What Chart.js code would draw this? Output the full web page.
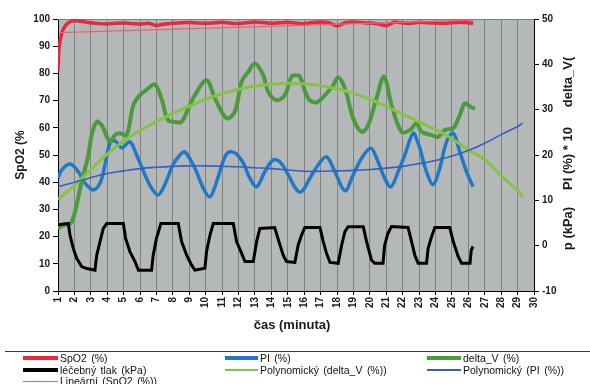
<!DOCTYPE html>
<html><head><meta charset="utf-8">
<script src="https://cdn.jsdelivr.net/npm/chart.js@4/dist/chart.umd.min.js"></script>
<style>
html,body{margin:0;padding:0;background:#fff;}
#wrap{position:relative;width:590px;height:384px;overflow:hidden;background:#fff;}
canvas{position:absolute;left:0;top:0;}
.sep{position:absolute;left:5px;top:351px;width:585px;height:1px;background:#3a3a3a;}
.lg{position:absolute;height:12px;display:flex;align-items:center;font:10.5px "Liberation Sans",Arial,sans-serif;color:#111;white-space:nowrap;word-spacing:1.5px;}
.lg i{display:inline-block;width:35px;margin-right:2px;}
</style></head>
<body><div id="wrap"><canvas id="c" width="590" height="384"></canvas>
<div class="sep"></div>
<div class="lg" style="left:23px;top:352px"><i style="height:4px;background:#e8283c"></i>SpO2 (%)</div>
<div class="lg" style="left:23px;top:364px"><i style="height:4px;background:#000"></i>léčebný tlak (kPa)</div>
<div class="lg" style="left:23px;top:375px"><i style="height:1px;background:#f06070"></i>Lineární (SpO2 (%))</div>
<div class="lg" style="left:225px;top:352px"><i style="width:33px;height:4px;background:#1f78c8"></i>PI (%)</div>
<div class="lg" style="left:225px;top:364px"><i style="width:33px;height:1.5px;background:#86c440"></i>Polynomický (delta_V (%))</div>
<div class="lg" style="left:427px;top:352px"><i style="width:34px;height:4px;background:#4b9a3c"></i>delta_V (%)</div>
<div class="lg" style="left:427px;top:364px"><i style="width:34px;height:1.5px;background:#3560c0"></i>Polynomický (PI (%))</div>
</div>
<script>
// ---- data (minutes / values) ----
const spo2T = [1, 1.05, 1.1, 1.2, 1.3, 1.45, 1.6, 1.8, 2.2, 2.6, 3, 3.5, 4, 4.5, 5, 5.5, 6, 6.5, 7, 7.5, 8, 8.5, 9, 9.5, 10, 10.5, 11, 11.5, 12, 12.5, 13, 13.5, 14, 14.5, 15, 15.5, 16, 16.5, 17, 17.5, 18, 18.5, 19, 19.5, 20, 20.5, 21, 21.5, 22, 22.5, 23, 23.5, 24, 24.5, 25, 25.5, 26, 26.3];
const spo2V = [81, 88, 91, 94, 96, 97.5, 98.5, 99.2, 99.3, 99.0, 98.6, 98.3, 98.2, 98.4, 98.5, 98.3, 98.1, 98.4, 97.6, 98.2, 98.4, 98.6, 98.7, 98.5, 98.4, 98.6, 98.8, 98.5, 98.3, 98.6, 98.9, 98.7, 98.4, 98.6, 98.8, 98.5, 98.3, 98.7, 98.9, 98.6, 97.5, 98.6, 98.9, 98.7, 98.5, 98.2, 97.5, 98.9, 98.5, 98.4, 98.8, 98.6, 98.5, 98.3, 98.6, 98.8, 98.6, 98.4];

const linSpo2T = [1.1, 26.3];
const linSpo2V = [95.0, 99.6];

const piT = [1.0, 1.23, 1.73, 2.24, 2.64, 3.15, 3.56, 3.86, 4.17, 4.47, 4.88, 5.38, 5.79, 6.3, 6.7, 7.1, 7.5, 8.0, 8.43, 8.73, 9.34, 9.85, 10.26, 10.66, 11.17, 11.48, 11.88, 12.29, 12.69, 13.1, 13.6, 14.1, 14.52, 15.03, 15.54, 15.84, 16.35, 16.85, 17.36, 17.87, 18.48, 18.98, 19.5, 20.06, 20.5, 20.9, 21.28, 21.72, 22.13, 22.64, 22.94, 23.05, 23.45, 23.86, 24.26, 24.67, 25.08, 25.48, 25.89, 26.29];
const piV = [14.9, 16.7, 18.0, 16.3, 13.8, 12.3, 13.8, 17.8, 22.6, 23.1, 21.6, 22.9, 20.0, 15.6, 12.7, 11.2, 13.4, 17.8, 20.0, 20.7, 17.1, 12.7, 10.8, 14.1, 19.6, 20.7, 20.2, 18.2, 14.9, 13.0, 16.3, 18.9, 18.5, 15.6, 12.3, 11.9, 14.9, 17.8, 19.6, 16.3, 12.1, 15.6, 19.3, 21.5, 18.5, 14.9, 13.0, 16.3, 20.0, 24.8, 22.6, 21.5, 16.3, 13.5, 17.1, 22.9, 24.8, 20.7, 16.3, 13.0];

const dvT = [1.0, 1.3, 1.63, 1.8, 2.04, 2.44, 2.85, 3.05, 3.36, 3.66, 4.17, 4.47, 4.78, 5.18, 5.59, 5.99, 6.5, 6.9, 7.3, 7.7, 8.13, 8.53, 8.94, 9.34, 10.05, 10.56, 11.27, 11.78, 12.19, 12.6, 13.0, 13.5, 13.8, 14.3, 14.82, 15.23, 15.5, 15.74, 16.24, 16.75, 17.36, 17.77, 18.07, 18.48, 18.98, 19.5, 19.9, 20.4, 20.87, 21.32, 21.93, 22.44, 22.84, 23.15, 23.76, 24.16, 24.57, 25.08, 25.48, 25.79, 26.1, 26.4];
const dvV = [3.8, 4.5, 4.7, 5.0, 7.5, 14.1, 20.0, 24.4, 27.3, 26.6, 22.9, 24.4, 24.8, 24.4, 31.0, 33.2, 34.7, 35.6, 32.5, 27.7, 27.3, 27.3, 30.3, 33.2, 36.5, 32.5, 28.1, 29.6, 36.2, 38.4, 40.2, 37.6, 34.0, 32.1, 33.2, 37.3, 37.6, 37.3, 32.5, 31.6, 33.6, 35.4, 37.1, 34.7, 28.1, 25.1, 26.6, 32.5, 37.3, 31.0, 25.1, 25.5, 27.0, 25.1, 24.4, 24.0, 25.5, 25.9, 28.8, 31.4, 30.7, 30.2];

const tlakT = [1.0, 1.63, 1.73, 1.93, 2.14, 2.44, 2.7, 3.25, 3.36, 3.56, 3.76, 3.97, 4.98, 5.12, 5.38, 5.69, 5.9, 6.7, 6.8, 7.0, 7.27, 8.33, 8.53, 8.84, 9.14, 9.34, 9.95, 10.05, 10.26, 10.46, 11.68, 11.88, 12.19, 12.39, 12.9, 13.1, 13.3, 14.2, 14.4, 14.72, 14.92, 15.43, 15.63, 15.84, 16.04, 16.96, 17.16, 17.36, 17.57, 18.07, 18.28, 18.48, 18.68, 19.6, 19.8, 20.1, 20.3, 20.8, 20.9, 21.1, 21.32, 22.33, 22.54, 22.74, 22.94, 23.45, 23.55, 23.76, 23.96, 24.87, 25.08, 25.38, 25.59, 26.1, 26.18, 26.29];
const tlakV = [4.6, 4.9, 2.35, -0.6, -2.8, -4.6, -5.0, -5.4, -2.1, 0.9, 3.8, 4.9, 4.9, 1.6, -1.3, -3.5, -5.4, -5.4, -2.1, 1.6, 4.9, 4.9, 0.9, -2.1, -4.3, -5.4, -5.0, -1.3, 2.35, 4.9, 4.9, 0.9, -1.7, -3.5, -3.5, 0.9, 3.8, 4.0, 1.6, -2.1, -3.5, -3.7, 0.1, 2.35, 4.0, 4.0, 0.9, -1.7, -3.7, -3.9, 0.1, 3.1, 4.2, 4.2, 0.9, -3.2, -3.9, -3.9, 0.1, 2.7, 4.2, 4.0, 0.9, -2.1, -3.9, -3.9, -0.6, 2.0, 4.0, 4.0, 0.9, -2.4, -3.9, -3.9, -0.95, -0.2];

const polyDvT = [1, 2, 3, 4, 5, 6, 7, 8, 9, 10, 11, 12, 13, 14, 15, 16, 17, 18, 19, 20, 21, 22, 23, 24, 25, 26, 27, 28, 29, 29.3];
const polyDvV = [10.2, 13.3, 16.8, 20.2, 23.1, 25.4, 27.4, 29.2, 30.8, 32.3, 33.5, 34.5, 35.2, 35.6, 35.8, 35.7, 35.3, 34.6, 33.6, 32.3, 30.7, 29.0, 27.3, 25.6, 23.6, 21.1, 19.0, 15.4, 12.2, 10.8];

const polyPiT = [1, 2, 3, 4, 5, 6, 7, 8, 9, 10, 11, 12, 13, 14, 15, 16, 17, 18, 19, 20, 21, 22, 23, 24, 25, 26, 27, 28, 29, 29.3];
const polyPiV = [13.0, 14.0, 15.0, 15.9, 16.5, 17.0, 17.3, 17.5, 17.6, 17.6, 17.5, 17.4, 17.2, 17.0, 16.7, 16.4, 16.4, 16.5, 16.6, 16.8, 17.1, 17.5, 18.1, 18.8, 19.8, 21.0, 22.6, 24.5, 26.3, 27.0];

const xTitle = 'čas (minuta)';
const leftTitle = 'SpO2 (%';
const rightTitleParts = ['p (kPa)', 'PI (%) * 10', 'delta_V('];

const pts = (t, v) => t.slice(0, Math.min(t.length, v.length)).map((x, i) => ({x, y: v[i]}));
const FONT = '"Liberation Sans", Arial, sans-serif';

const deco = {
  id: 'deco',
  beforeDraw(chart) {
    const {ctx, chartArea: a} = chart;
    ctx.save();
    ctx.fillStyle = '#b4b8b8';
    ctx.fillRect(a.left, a.top, a.right - a.left, a.bottom - a.top);
    ctx.restore();
  },
  beforeDatasetsDraw(chart) {
    const {ctx, chartArea: a} = chart;
    ctx.save();
    ctx.strokeStyle = '#7c8080';
    ctx.lineWidth = 1;
    ctx.beginPath();
    ctx.moveTo(a.left, a.top + 0.5);
    ctx.lineTo(a.right, a.top + 0.5);
    ctx.stroke();
    ctx.restore();
  },
  afterDraw(chart) {
    const {ctx, chartArea: a} = chart;
    ctx.save();
    ctx.fillStyle = '#1a1a1a';
    ctx.textAlign = 'center';
    ctx.textBaseline = 'middle';
    ctx.font = 'bold 12px ' + FONT;
    ctx.save(); ctx.translate(21, (a.top + a.bottom) / 2); ctx.rotate(-Math.PI / 2); ctx.fillText(leftTitle, 0, 0); ctx.restore();
    ctx.font = 'bold 13px ' + FONT;
    const ys = [228.5, 158.5, 82];
    rightTitleParts.forEach((s, i) => {
      ctx.save(); ctx.translate(568, ys[i]); ctx.rotate(-Math.PI / 2); ctx.fillText(s, 0, 0); ctx.restore();
    });
    ctx.font = 'bold 13px ' + FONT;
    ctx.fillText(xTitle, 292, 325);
    ctx.restore();
  }
};

const tickFont = {family: FONT, size: 10, weight: 'bold'};

new Chart(document.getElementById('c'), {
  type: 'line',
  data: {
    datasets: [
      {label: 'Lineární (SpO2 (%))', data: pts(linSpo2T, linSpo2V), yAxisID: 'y', borderColor: '#f06070', borderWidth: 1.3, pointRadius: 0, tension: 0},
      {label: 'Polynomický (PI (%))', data: pts(polyPiT, polyPiV), yAxisID: 'y2', borderColor: '#3560c0', borderWidth: 1.6, pointRadius: 0, tension: 0.4},
      {label: 'Polynomický (delta_V (%))', data: pts(polyDvT, polyDvV), yAxisID: 'y2', borderColor: '#86c440', borderWidth: 3, pointRadius: 0, tension: 0.4},
      {label: 'léčebný tlak (kPa)', data: pts(tlakT, tlakV), yAxisID: 'y2', borderColor: '#000000', borderWidth: 3, pointRadius: 0, tension: 0},
      {label: 'delta_V (%)', data: pts(dvT, dvV), yAxisID: 'y2', borderColor: '#4b9a3c', borderWidth: 4, pointRadius: 0, tension: 0.35},
      {label: 'PI (%)', data: pts(piT, piV), yAxisID: 'y2', borderColor: '#1f78c8', borderWidth: 3.5, pointRadius: 0, tension: 0.35},
      {label: 'SpO2 (%)', data: pts(spo2T, spo2V), yAxisID: 'y', borderColor: '#e8283c', borderWidth: 3.5, pointRadius: 0, tension: 0.2}
    ]
  },
  options: {
    responsive: false,
    animation: false,
    devicePixelRatio: 1,
    layout: {padding: {top: 19, bottom: 51, left: 0, right: 0}},
    plugins: {legend: {display: false}, tooltip: {enabled: false}},
    scales: {
      x: {
        type: 'linear', min: 1, max: 30,
        ticks: {stepSize: 1, autoSkip: false, minRotation: 90, maxRotation: 90, font: tickFont, color: '#1a1a1a', padding: 2,
          callback: v => String(Math.round(v))},
        grid: {color: '#7e8282', lineWidth: 1, tickColor: '#000', tickLength: 4, drawOnChartArea: true},
        border: {display: true, color: '#000', width: 1},
        afterFit(s) { s.height = 42; }
      },
      y: {
        position: 'left', min: 0, max: 100,
        ticks: {stepSize: 10, font: tickFont, color: '#1a1a1a', padding: 3},
        grid: {drawOnChartArea: false, tickColor: '#000', tickLength: 5},
        border: {display: true, color: '#000', width: 1},
        afterFit(s) { s.width = 58; }
      },
      y2: {
        position: 'right', min: -10, max: 50,
        ticks: {stepSize: 10, font: tickFont, color: '#1a1a1a', padding: 3},
        grid: {drawOnChartArea: false, tickColor: '#000', tickLength: 5},
        border: {display: true, color: '#000', width: 1},
        afterFit(s) { s.width = 56; }
      }
    }
  },
  plugins: [deco]
});
</script>
</body></html>
